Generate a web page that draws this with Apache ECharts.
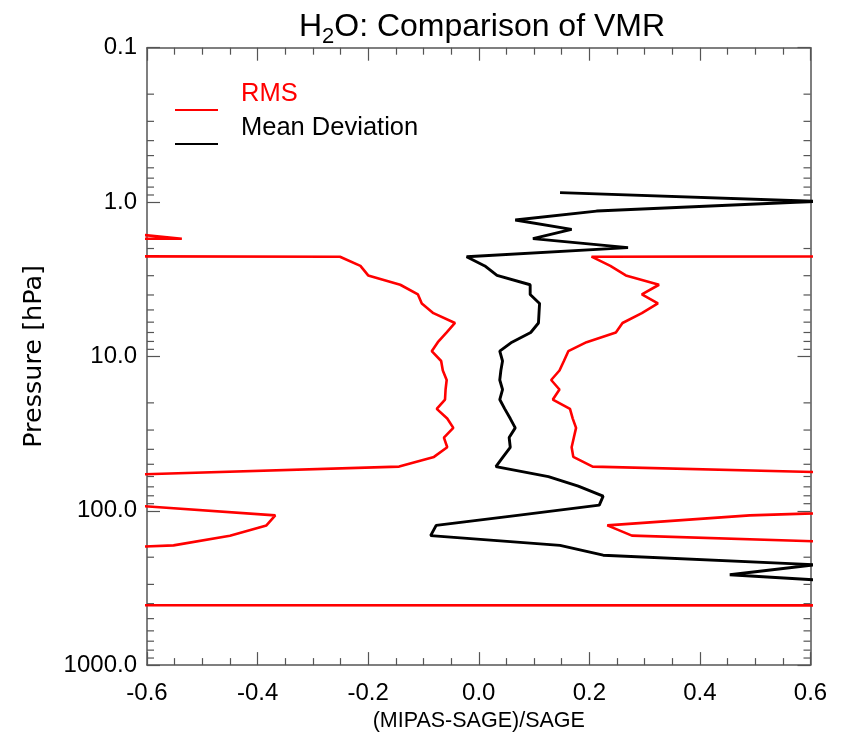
<!DOCTYPE html>
<html><head><meta charset="utf-8">
<script src="https://cdn.jsdelivr.net/npm/echarts@6/dist/echarts.min.js"></script>
<style>html,body{margin:0;padding:0;background:#fff}#c{width:842px;height:737px}</style>
</head><body><div id="c"></div>
<script>
// Pressure levels (hPa)
const pressure = [0.869, 0.990, 1.144, 1.308, 1.503, 1.727, 1.975, 2.260, 2.593, 2.988,
  3.434, 3.968, 4.539, 5.246, 6.074, 6.998, 8.091, 9.253, 10.71, 12.34,
  14.22, 16.39, 19.03, 21.87, 25.28, 29.04, 33.57, 38.80, 44.78, 51.76,
  60.09, 69.27, 80.40, 91.97, 107.1, 124.4, 145.0, 167.6, 194.1, 223.7,
  259.7, 301.5, 350.0, 400, 420];
// Mean deviation (MIPAS-SAGE)/SAGE
const meanDeviation = [0.147, 0.61, 0.213, 0.066, 0.168, 0.098, 0.270, -0.022, 0.011, 0.033,
  0.093, 0.093, 0.110, 0.109, 0.108, 0.094, 0.060, 0.038, 0.043, 0.040,
  0.038, 0.043, 0.038, 0.047, 0.057, 0.066, 0.055, 0.057, 0.044, 0.031,
  0.126, 0.180, 0.225, 0.218, 0.070, -0.077, -0.087, 0.147, 0.225, 0.61,
  0.454, 0.75, 1.2, null, null];
// RMS envelope, lower branch
const rmsLower = [null, null, null, -5, -0.71, -0.537, -10, -0.251, -0.214, -0.200,
  -0.142, -0.110, -0.103, -0.082, -0.043, -0.058, -0.074, -0.085, -0.068, -0.065,
  -0.058, -0.060, -0.061, -0.076, -0.057, -0.046, -0.063, -0.057, -0.081, -0.144,
  -0.75, -3, -3, -0.632, -0.368, -0.384, -0.450, -0.552, -1.03, -5,
  -5, -5, -5, -20, 20];
// RMS envelope, upper branch
const rmsUpper = [null, null, null, 5, 1.05, 0.73, 10, 0.204, 0.238, 0.266,
  0.326, 0.295, 0.324, 0.295, 0.260, 0.248, 0.195, 0.162, 0.154, 0.146,
  0.131, 0.146, 0.134, 0.165, 0.170, 0.176, 0.172, 0.168, 0.171, 0.206,
  0.95, 3, 3, 1.07, 0.49, 0.2325, 0.277, 0.846, 1.48, 5,
  5, 5, 5, 20, null];

const yTickLabels = ['0.1', '1.0', '10.0', '100.0', '1000.0'];
const yMinorTicks = [0.2,0.3,0.4,0.5,0.6,0.7,0.8,0.9, 2,3,4,5,6,7,8,9,
  20,30,40,50,60,70,80,90, 200,300,400,500,600,700,800,900];

const FONT = "'Liberation Sans', Arial, sans-serif";
const AX = '#555';

function pairs(vals) {
  const out = [];
  vals.forEach((v, i) => { if (v !== null) out.push([v, pressure[i]]); });
  return out;
}

const chart = echarts.init(document.getElementById('c'), null, {renderer: 'canvas'});
const xCommon = {
  type: 'value', min: -0.6, max: 0.6, interval: 0.2,
  axisLine: {show: true, onZero: false, lineStyle: {color: AX, width: 1.5}},
  axisTick: {show: true, inside: true, length: 13, lineStyle: {color: AX, width: 1.2}},
  minorTick: {show: true, splitNumber: 4, length: 7, lineStyle: {color: AX, width: 1.2}},
  splitLine: {show: false}
};
const yCommon = {
  type: 'log', logBase: 10, min: 0.1, max: 1000, inverse: true, splitNumber: 4,
  axisLine: {show: true, onZero: false, lineStyle: {color: AX, width: 1.5}},
  axisTick: {show: true, inside: true, length: 13, lineStyle: {color: AX, width: 1.2}},
  splitLine: {show: false}
};

chart.setOption({
  animation: false,
  backgroundColor: '#fff',
  title: {
    text: '{a|H}{s|2}{a|O: Comparison of VMR}',
    left: 477, top: 2, textAlign: 'center',
    textStyle: {
      fontWeight: 'normal',
      rich: {
        a: {fontSize: 32, fontFamily: FONT, fontWeight: 'normal', color: '#000', lineHeight: 40},
        s: {fontSize: 22, fontFamily: FONT, fontWeight: 'normal', color: '#000', lineHeight: 22, padding: [20, 0, 0, 0]}
      }
    }
  },
  grid: {left: 147, right: 31.5, top: 47.7, bottom: 71.7},
  legend: {
    orient: 'vertical', left: 170, top: 73,
    itemWidth: 43, itemHeight: 2, icon: 'rect', itemGap: -30,
    formatter: name => name + '\n ',
    textStyle: {fontSize: 25.5, lineHeight: 32, fontFamily: FONT, padding: [0, 0, 0, 18]},
    data: [
      {name: 'RMS', textStyle: {color: '#ff0000'}},
      {name: 'Mean Deviation', textStyle: {color: '#000'}}
    ]
  },
  xAxis: [
    Object.assign({}, xCommon, {
      position: 'bottom',
      name: '(MIPAS-SAGE)/SAGE', nameLocation: 'middle', nameGap: 41,
      nameTextStyle: {fontSize: 21.5, fontFamily: FONT, color: '#000'},
      axisLabel: {show: true, margin: 16, fontSize: 24, fontFamily: FONT, color: '#000',
        formatter: v => v.toFixed(1)}
    }),
    Object.assign({}, xCommon, {position: 'top', axisLabel: {show: false}})
  ],
  yAxis: [
    Object.assign({}, yCommon, {
      position: 'left',
      name: 'Pressure [hPa]', nameLocation: 'middle', nameGap: 100,
      nameTextStyle: {fontSize: 25.5, fontFamily: "'DejaVu Sans', sans-serif", color: '#000'},
      axisLabel: {show: true, margin: 10, fontSize: 24, fontFamily: FONT, color: '#000',
        formatter: (v, i) => yTickLabels[i]}
    }),
    Object.assign({}, yCommon, {position: 'right', axisLabel: {show: false}})
  ],
  series: [
    {
      name: 'RMS', type: 'line', data: pairs(rmsLower), symbol: 'none', clip: true,
      lineStyle: {color: '#ff0000', width: 2.6}, itemStyle: {color: '#ff0000'}
    },
    {
      name: 'RMS', type: 'line', data: pairs(rmsUpper), symbol: 'none', clip: true,
      lineStyle: {color: '#ff0000', width: 2.6}, itemStyle: {color: '#ff0000'}
    },
    {
      name: 'Mean Deviation', type: 'line', data: pairs(meanDeviation), symbol: 'none', clip: true,
      lineStyle: {color: '#000', width: 2.9}, itemStyle: {color: '#000'}
    },
    {
      name: 'minorTicks', type: 'custom', silent: true,
      data: yMinorTicks.map(v => [0, v]),
      encode: {x: 0, y: 1},
      renderItem: function (params, api) {
        const cs = params.coordSys;
        const y = api.coord([0, api.value(1)])[1];
        return {type: 'group', children: [
          {type: 'line', shape: {x1: cs.x, y1: y, x2: cs.x + 7, y2: y}, style: {stroke: AX, lineWidth: 1.2}},
          {type: 'line', shape: {x1: cs.x + cs.width - 7, y1: y, x2: cs.x + cs.width, y2: y}, style: {stroke: AX, lineWidth: 1.2}}
        ]};
      }
    }
  ]
});
</script></body></html>
